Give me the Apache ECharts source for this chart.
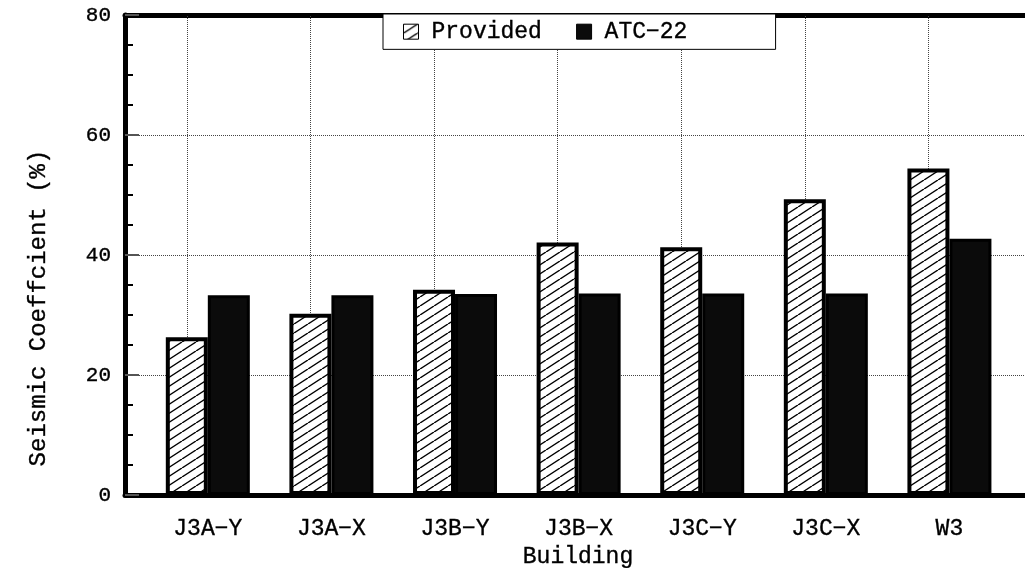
<!DOCTYPE html>
<html>
<head>
<meta charset="utf-8">
<script src="https://cdn.jsdelivr.net/npm/echarts@6/dist/echarts.min.js"></script>
<style>
  html, body { margin: 0; padding: 0; background: #fff; }
  #chart { width: 1025px; height: 568px; }
</style>
</head>
<body>
<div id="chart"></div>
<script>
// Buildings along the horizontal axis
const buildings = ['J3A\u2212Y', 'J3A\u2212X', 'J3B\u2212Y', 'J3B\u2212X', 'J3C\u2212Y', 'J3C\u2212X', 'W3'];
// Seismic coefficient (%) for each building
const provided = [26.3, 30.2, 34.2, 42.1, 41.3, 49.3, 54.4];
const atc22 = [33.3, 33.3, 33.5, 33.6, 33.6, 33.6, 42.7];
const yTicks = [0, 20, 40, 60, 80];

const FONT = '"Liberation Mono", "DejaVu Sans Mono", monospace';
// slightly heavier strokes for the typewriter-style lettering
const ink = { color: '#000', textBorderColor: '#000', textBorderWidth: 0.35 };

// Diagonal hatch fill for the "Provided" bars
function hatchPattern() {
  const w = 14, h = 9;
  const c = document.createElement('canvas');
  c.width = w; c.height = h;
  const g = c.getContext('2d');
  g.fillStyle = '#fff';
  g.fillRect(0, 0, w, h);
  g.strokeStyle = '#000';
  g.lineWidth = 1.4;
  g.beginPath();
  for (let k = -1; k <= 1; k++) {
    g.moveTo(k * w, h);
    g.lineTo((k + 1) * w, 0);
  }
  g.stroke();
  return c;
}
const hatch = { image: hatchPattern(), repeat: 'repeat' };

const xPos = buildings.map((_, i) => i + 1);
const xMin = 0.33, xMax = 7.66;

const chart = echarts.init(document.getElementById('chart'), null, { renderer: 'canvas' });
chart.setOption({
  backgroundColor: '#fff',
  animation: false,
  textStyle: { fontFamily: FONT, color: '#000' },
  grid: { left: 125, right: -6, top: 15, bottom: 73, containLabel: false, outerBoundsMode: 'none' },
  legend: {
    left: 383, top: 14, icon: 'rect',
    itemWidth: 15, itemHeight: 15, itemGap: 34,
    padding: [6, 88, 6, 20],
    backgroundColor: '#fff', borderColor: '#000', borderWidth: 1,
    textStyle: Object.assign({ fontFamily: FONT, fontSize: 23, padding: [0, 0, 0, 8] }, ink),
    itemStyle: { borderWidth: 1, borderColor: '#000' },
    data: ['Provided', 'ATC\u221222']
  },
  xAxis: [{
    type: 'value', min: xMin, max: xMax,
    name: 'Building', nameLocation: 'middle', nameGap: 38,
    nameTextStyle: Object.assign({ fontFamily: FONT, fontSize: 23 }, ink),
    axisLine: { show: true, onZero: false, lineStyle: { color: '#000', width: 5 } },
    axisTick: { show: false, customValues: xPos },
    axisLabel: Object.assign({
      customValues: xPos, margin: 22,
      fontFamily: FONT, fontSize: 23,
      formatter: v => buildings[Math.round(v) - 1] || ''
    }, ink),
    splitLine: { show: false }
  }, {
    type: 'value', min: xMin, max: xMax, position: 'top',
    axisLine: { show: true, onZero: false, lineStyle: { color: '#000', width: 5 } },
    axisTick: { show: false }, axisLabel: { show: false }, splitLine: { show: false }
  }],
  yAxis: {
    type: 'value', min: yTicks[0], max: yTicks[yTicks.length - 1], interval: 20,
    name: 'Seismic Coeffcient (%)', nameLocation: 'middle', nameGap: 74,
    nameTextStyle: Object.assign({ fontFamily: FONT, fontSize: 24, padding: [0, 106, 0, 0] }, ink),
    axisLine: { show: true, lineStyle: { color: '#000', width: 5 } },
    axisTick: { show: true, inside: true, length: 14, lineStyle: { color: '#555', width: 2 } },
    minorTick: { show: true, splitNumber: 4, length: 8, lineStyle: { color: '#000', width: 2 } },
    axisLabel: Object.assign({ margin: 14, fontFamily: FONT, fontSize: 21 }, ink),
    splitLine: { show: true, lineStyle: { type: 'dotted', color: '#444', width: 1 } }
  },
  series: [{
    name: 'Provided', type: 'bar',
    data: provided.map((v, i) => [xPos[i], v]),
    barWidth: 42, barGap: '0%',
    itemStyle: { color: hatch, borderColor: '#000', borderWidth: 4 },
    markLine: {
      z: 1, silent: true, symbol: ['none', 'none'],
      label: { show: false },
      lineStyle: { type: 'dotted', color: '#444', width: 1 },
      data: xPos.map(x => ({ xAxis: x }))
    }
  }, {
    name: 'ATC\u221222', type: 'bar',
    data: atc22.map((v, i) => [xPos[i], v]),
    barWidth: 42,
    itemStyle: { color: '#0b0b0b', borderColor: '#000', borderWidth: 3 }
  }]
});
</script>
</body>
</html>
